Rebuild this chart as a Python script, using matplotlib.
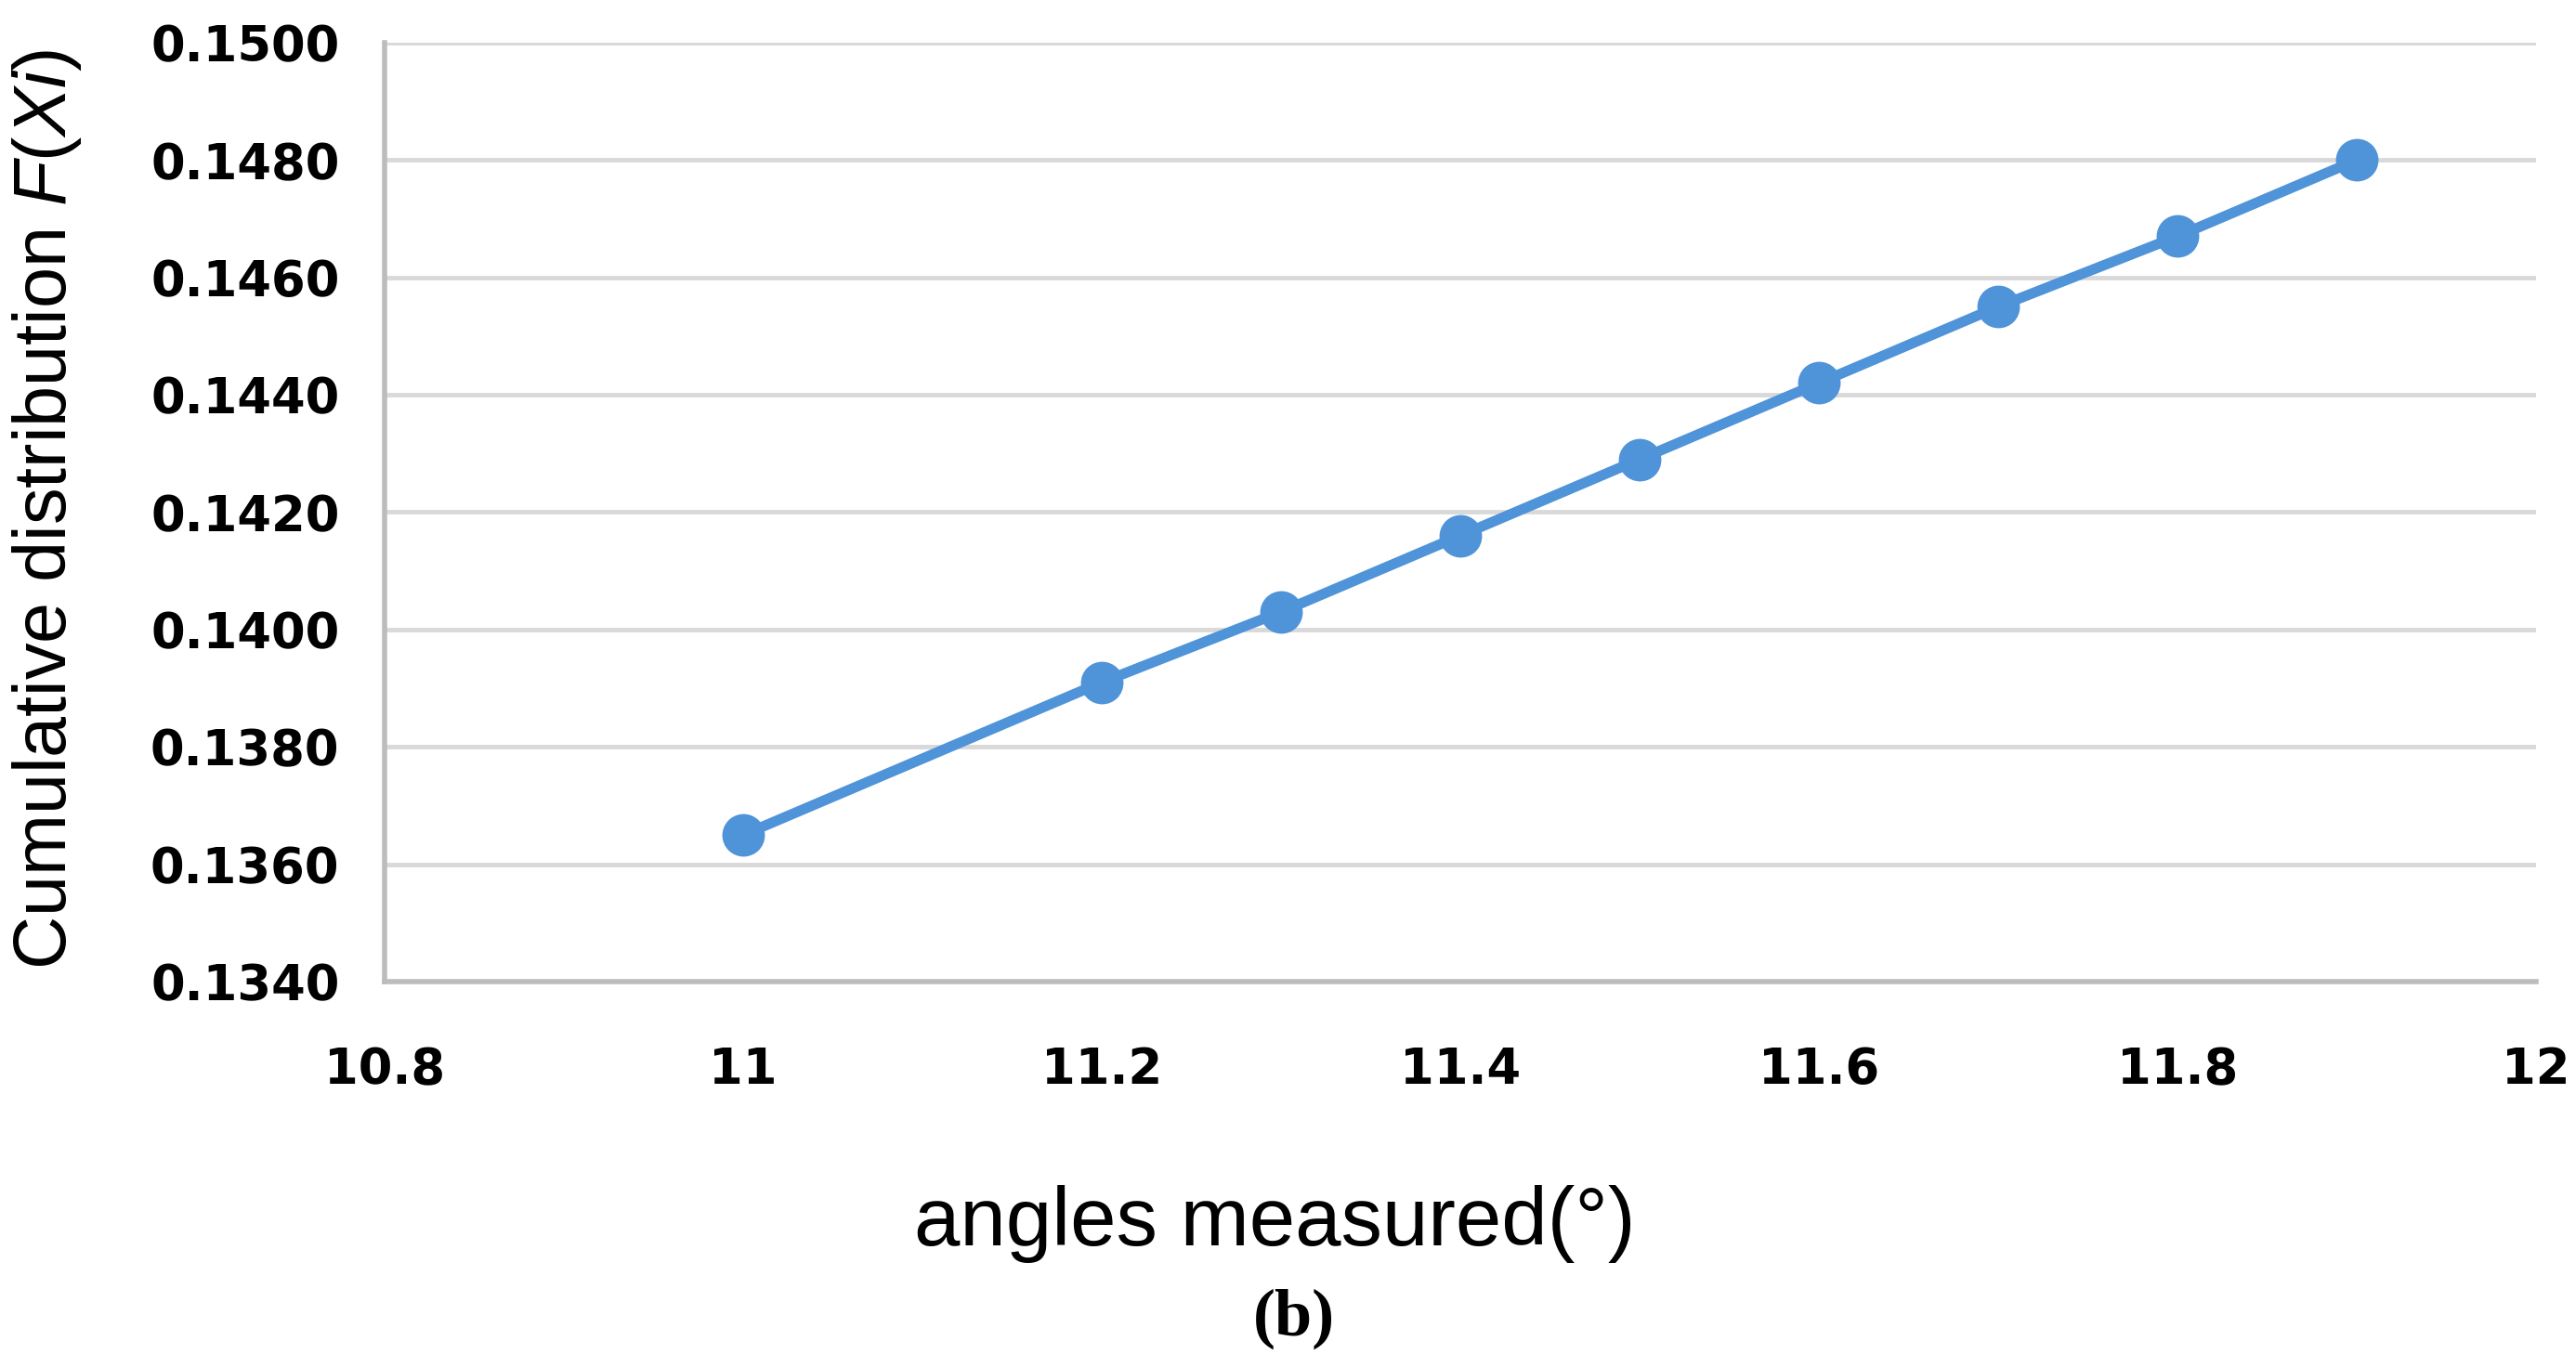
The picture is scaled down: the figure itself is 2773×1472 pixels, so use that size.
import matplotlib
matplotlib.use('Agg')
import matplotlib.pyplot as plt

# data
angles = [11.0, 11.2, 11.3, 11.4, 11.5, 11.6, 11.7, 11.8, 11.9]
cum_dist = [0.1365, 0.1391, 0.1403, 0.1416, 0.1429, 0.1442, 0.1455, 0.1467, 0.1480]

x_ticks = [10.8, 11, 11.2, 11.4, 11.6, 11.8, 12]
x_tick_labels = ['10.8', '11', '11.2', '11.4', '11.6', '11.8', '12']
y_ticks = [0.1340, 0.1360, 0.1380, 0.1400, 0.1420, 0.1440, 0.1460, 0.1480, 0.1500]

plt.rcParams['mathtext.fontset'] = 'custom'
plt.rcParams['mathtext.rm'] = 'Liberation Sans'
plt.rcParams['mathtext.it'] = 'Liberation Sans:italic'

fig = plt.figure(figsize=(27.73, 14.72), dpi=100)
ax = fig.add_axes([0.1493, 0.2819, 0.9845 - 0.1493, 0.9688 - 0.2819])

ax.plot(angles, cum_dist, color='#4f93d8', linewidth=8, marker='o',
        markersize=33, markeredgewidth=0, zorder=3)

ax.set_xlim(10.8, 12)
ax.set_ylim(0.1340, 0.1500)
ax.set_xticks(x_ticks)
ax.set_xticklabels(x_tick_labels)
ax.set_yticks(y_ticks)
ax.set_yticklabels(['%.4f' % v for v in y_ticks])

# horizontal grid only, excel style
ax.yaxis.grid(True, color='#d9d9d9', linewidth=3.5)
ax.set_axisbelow(True)
for s in ['top', 'right']:
    ax.spines[s].set_visible(False)
for s in ['left', 'bottom']:
    ax.spines[s].set_color('#bcbcbc')
    ax.spines[s].set_linewidth(4)

ax.tick_params(axis='both', length=0)
ax.tick_params(axis='y', pad=35)
ax.tick_params(axis='x', pad=50)
for lab in ax.get_xticklabels() + ax.get_yticklabels():
    lab.set_fontfamily('DejaVu Sans')
    lab.set_fontweight('bold')
    lab.set_fontsize(38)

ax.set_xlabel('angles measured(°)', fontfamily='Liberation Sans', fontsize=64)
ax.xaxis.set_label_coords(0.4136, -0.258)
ax.xaxis.label.set_va('center')

ax.set_ylabel('Cumulative distribution $F$($Xi$)', fontfamily='Liberation Sans', fontsize=57)
ax.yaxis.set_label_coords(-0.157, 0.503)
ax.yaxis.label.set_va('center')

fig.text(1393 / 2773, 1 - 1420 / 1472, '(b)', fontfamily='Liberation Serif',
         fontweight='bold', fontsize=52, ha='center', va='center')

fig.savefig('out.png', dpi=100)
